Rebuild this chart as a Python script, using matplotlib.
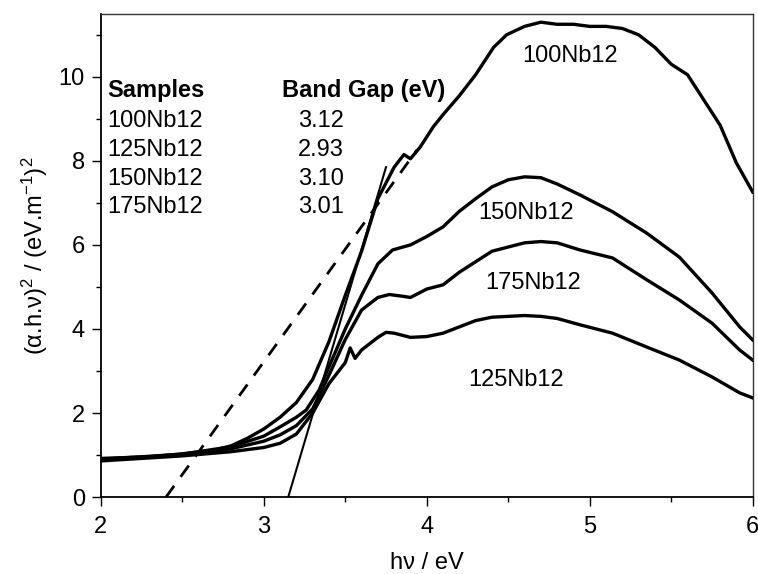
import matplotlib
matplotlib.use('Agg')
import matplotlib.pyplot as plt

plt.rcParams['font.family'] = ['Liberation Sans', 'DejaVu Sans']
plt.rcParams['mathtext.fontset'] = 'custom'
plt.rcParams['mathtext.rm'] = 'Liberation Sans'
plt.rcParams['mathtext.it'] = 'Liberation Sans:italic'

# curves (photon energy in eV, (a.h.v)^2)
x100 = [2.0, 2.3, 2.5, 2.7, 2.8, 2.9, 3.0, 3.1, 3.2, 3.3, 3.4, 3.5, 3.6, 3.7, 3.8, 3.86, 3.9,
        3.96, 4.04, 4.1, 4.2, 4.3, 4.41, 4.49, 4.6, 4.7, 4.8, 4.9, 5.0, 5.1, 5.2, 5.3, 5.4,
        5.5, 5.6, 5.7, 5.8, 5.9, 6.0]
y100 = [0.92, 0.96, 1.03, 1.12, 1.22, 1.4, 1.62, 1.9, 2.25, 2.8, 3.7, 4.8, 5.85, 7.1, 7.85, 8.15, 8.05,
        8.33, 8.81, 9.1, 9.55, 10.05, 10.7, 11.0, 11.2, 11.3, 11.25, 11.25, 11.2, 11.2, 11.15, 11.0, 10.7,
        10.3, 10.05, 9.45, 8.85, 7.95, 7.26]

x125 = [2.0, 2.5, 2.8, 3.0, 3.1, 3.2, 3.3, 3.4, 3.5, 3.53, 3.56, 3.6, 3.7, 3.75, 3.8, 3.9,
        4.0, 4.1, 4.2, 4.3, 4.4, 4.5, 4.6, 4.7, 4.8, 4.94, 5.14, 5.35, 5.55, 5.75, 5.92, 6.0]
y125 = [0.86, 0.98, 1.08, 1.18, 1.28, 1.5, 2.0, 2.7, 3.2, 3.55, 3.3, 3.5, 3.8, 3.92, 3.9, 3.8,
        3.82, 3.9, 4.05, 4.2, 4.28, 4.3, 4.32, 4.3, 4.25, 4.1, 3.9, 3.57, 3.26, 2.86, 2.48, 2.36]

x150 = [2.0, 2.5, 2.8, 3.0, 3.1, 3.2, 3.26, 3.34, 3.4, 3.5, 3.6, 3.7, 3.79, 3.9, 4.0, 4.1, 4.2,
        4.3, 4.4, 4.5, 4.6, 4.7, 4.8, 4.94, 5.14, 5.35, 5.55, 5.75, 5.92, 6.0]
y150 = [0.9, 1.02, 1.2, 1.45, 1.67, 1.9, 2.07, 2.55, 3.1, 4.0, 4.8, 5.55, 5.88, 6.0, 6.2, 6.43, 6.8,
        7.1, 7.38, 7.55, 7.62, 7.6, 7.45, 7.19, 6.79, 6.28, 5.71, 4.86, 4.05, 3.74]

x175 = [2.0, 2.5, 2.8, 3.0, 3.1, 3.2, 3.3, 3.4, 3.5, 3.6, 3.7, 3.77, 3.85, 3.9, 4.0, 4.1,
        4.2, 4.3, 4.4, 4.5, 4.6, 4.7, 4.8, 4.94, 5.14, 5.35, 5.55, 5.75, 5.92, 6.0]
y175 = [0.88, 1.0, 1.15, 1.33, 1.48, 1.7, 2.1, 2.9, 3.75, 4.45, 4.75, 4.82, 4.78, 4.75, 4.95, 5.05,
        5.35, 5.6, 5.85, 5.95, 6.05, 6.08, 6.05, 5.88, 5.69, 5.17, 4.69, 4.14, 3.5, 3.26]

# tangent lines
tan_solid_x = [3.15, 3.75]
tan_solid_y = [0.0, 7.85]
tan_dash_x = [2.4, 3.94]
tan_dash_y = [0.0, 8.26]

samples = ['100Nb12', '125Nb12', '150Nb12', '175Nb12']
gaps = ['3.12', '2.93', '3.10', '3.01']

fig = plt.figure(figsize=(7.58, 5.74), dpi=100)
ax = fig.add_axes([0.133, 0.134, 0.860, 0.842])

for xs, ys in [(x100, y100), (x125, y125), (x150, y150), (x175, y175)]:
    ax.plot(xs, ys, color='black', lw=2.4, solid_joinstyle='round')

ax.plot(tan_solid_x, tan_solid_y, color='black', lw=1.5)
ax.plot(tan_dash_x, tan_dash_y, color='black', lw=2, dashes=(5, 4))

# curve labels
ax.text(4.88, 10.5, '100Nb12', fontsize=17, ha='center', va='center')
ax.text(4.61, 6.76, '150Nb12', fontsize=17, ha='center', va='center')
ax.text(4.65, 5.1, '175Nb12', fontsize=17, ha='center', va='center')
ax.text(4.55, 2.79, '125Nb12', fontsize=17, ha='center', va='center')

# table
ax.text(2.037, 9.52, 'Samples', fontsize=17, fontweight='bold', va='baseline')
ax.text(3.11, 9.52, 'Band Gap (eV)', fontsize=17, fontweight='bold', va='baseline')
row_y = [8.81, 8.12, 7.43, 6.76]
for s, g, yy in zip(samples, gaps, row_y):
    ax.text(2.037, yy, s, fontsize=17, va='baseline')
    ax.text(3.21, yy, g, fontsize=17, va='baseline')

ax.set_xlim(2, 6)
ax.set_ylim(0, 11.5)
ax.set_xticks([2, 3, 4, 5, 6])
ax.set_xticks([2.5, 3.5, 4.5, 5.5], minor=True)
ax.set_yticks([0, 2, 4, 6, 8, 10])
ax.set_yticks([1, 3, 5, 7, 9, 11], minor=True)
ax.tick_params(which='major', length=6.5, width=1, labelsize=17, direction='out')
ax.tick_params(which='minor', length=3.6, width=1, direction='out')
ax.tick_params(axis='x', pad=7)
ax.tick_params(axis='y', pad=5)
for side in ['left', 'bottom']:
    ax.spines[side].set_linewidth(1.3)
for side in ['top', 'right']:
    ax.spines[side].set_linewidth(1.0)
    ax.spines[side].set_color('#333333')

ax.set_xlabel('h\u03bd / eV', fontsize=17, labelpad=10)
ax.set_ylabel('(\u03b1.h.\u03bd)$^2$ / (eV.m$^{-1}$)$^2$', fontsize=17, labelpad=6)

fig.savefig('out.png', dpi=100)
